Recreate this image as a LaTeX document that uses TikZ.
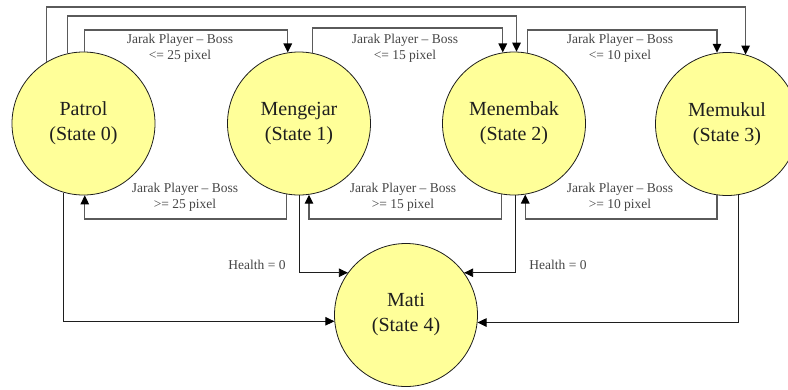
\documentclass[tikz,border=0pt]{standalone}
\usepackage{fontspec}
\setmainfont{Liberation Serif}
\usetikzlibrary{arrows.meta}
\definecolor{stfill}{RGB}{255,255,153}
\definecolor{lgray}{RGB}{90,90,90}
\definecolor{dgray}{RGB}{30,30,30}
\definecolor{tgray}{RGB}{70,70,70}
\begin{document}
\begin{tikzpicture}[x=1pt,y=-1pt,
  state/.style={circle,draw=dgray,line width=0.8pt,fill=stfill,minimum size=143pt,inner sep=0pt,
    align=center,text=dgray,font=\fontsize{20}{25}\selectfont},
  lbl/.style={align=center,text=tgray,font=\fontsize{13.5}{16}\selectfont,inner sep=0pt},
  garr/.style={draw=lgray,line width=1.3pt,-{Triangle[length=9pt,width=8.5pt,color=black]}},
  barr/.style={draw=dgray,line width=0.9pt,-{Triangle[length=9pt,width=8.5pt,color=black]}}]
\useasboundingbox (0,0) rectangle (788,389);
\clip (0,0) rectangle (788,389);
\fill[white] (0,0) rectangle (788,389);
\node[state] (P) at (83.5,123.5) {Patrol\\(State 0)};
\node[state] (Mg) at (299,123.5) {Mengejar\\(State 1)};
\node[state] (Mn) at (514,123.5) {Menembak\\(State 2)};
\node[state] (Mk) at (727,124) {Memukul\\(State 3)};
\node[state] (Mt) at (406,315) {Mati\\(State 4)};
\coordinate (y7) at (0,7);
\coordinate (y16) at (0,16);
\coordinate (y30) at (0,30);
\coordinate (y28) at (0,28);
\coordinate (y219) at (0,219);
% top transitions
\draw[garr] (P.121.6) |- (Mk.75.4 |- y7) -- (Mk.75.4);
\draw[garr] (P.103.3) |- (Mn.88 |- y16) -- (Mn.88);
\draw[garr] (P.89) |- (Mg.99.7 |- y30) -- (Mg.99.7);
\draw[garr] (Mg.79.5) |- (Mn.99.7 |- y28) -- (Mn.99.7);
\draw[garr] (Mn.79.5) |- (Mk.98 |- y30) -- (Mk.98);
% bottom return transitions
\draw[garr] (Mg.260.3) |- (P.271.2 |- y219) -- (P.271.2);
\draw[garr] (Mn.260.3) |- (Mg.278.8 |- y219) -- (Mg.278.8);
\draw[garr] (Mk.262) |- (Mn.279.7 |- y219) -- (Mn.279.7);
% to Mati
\draw[barr] (Mg.270) |- (Mt.144);
\draw[barr] (Mn.271.6) |- (Mt.36);
\draw[barr] (P.254.2) |- (Mt.185.6);
\draw[barr] (Mk.279.7) |- (Mt.354.4);
% labels
\node[lbl] (l1) at (180,48) {Jarak Player – Boss\\<= 25 pixel};
\node[lbl] (l2) at (405,48) {Jarak Player – Boss\\<= 15 pixel};
\node[lbl] (l3) at (620,48) {Jarak Player – Boss\\<= 10 pixel};
\node[lbl] (l4) at (185,197) {Jarak Player – Boss\\>= 25 pixel};
\node[lbl] (l5) at (403,197) {Jarak Player – Boss\\>= 15 pixel};
\node[lbl] (l6) at (620,197) {Jarak Player – Boss\\>= 10 pixel};
\node[lbl] (h1) at (257,265) {Health = 0};
\node[lbl] (h2) at (558,265) {Health = 0};
\end{tikzpicture}
\end{document}
